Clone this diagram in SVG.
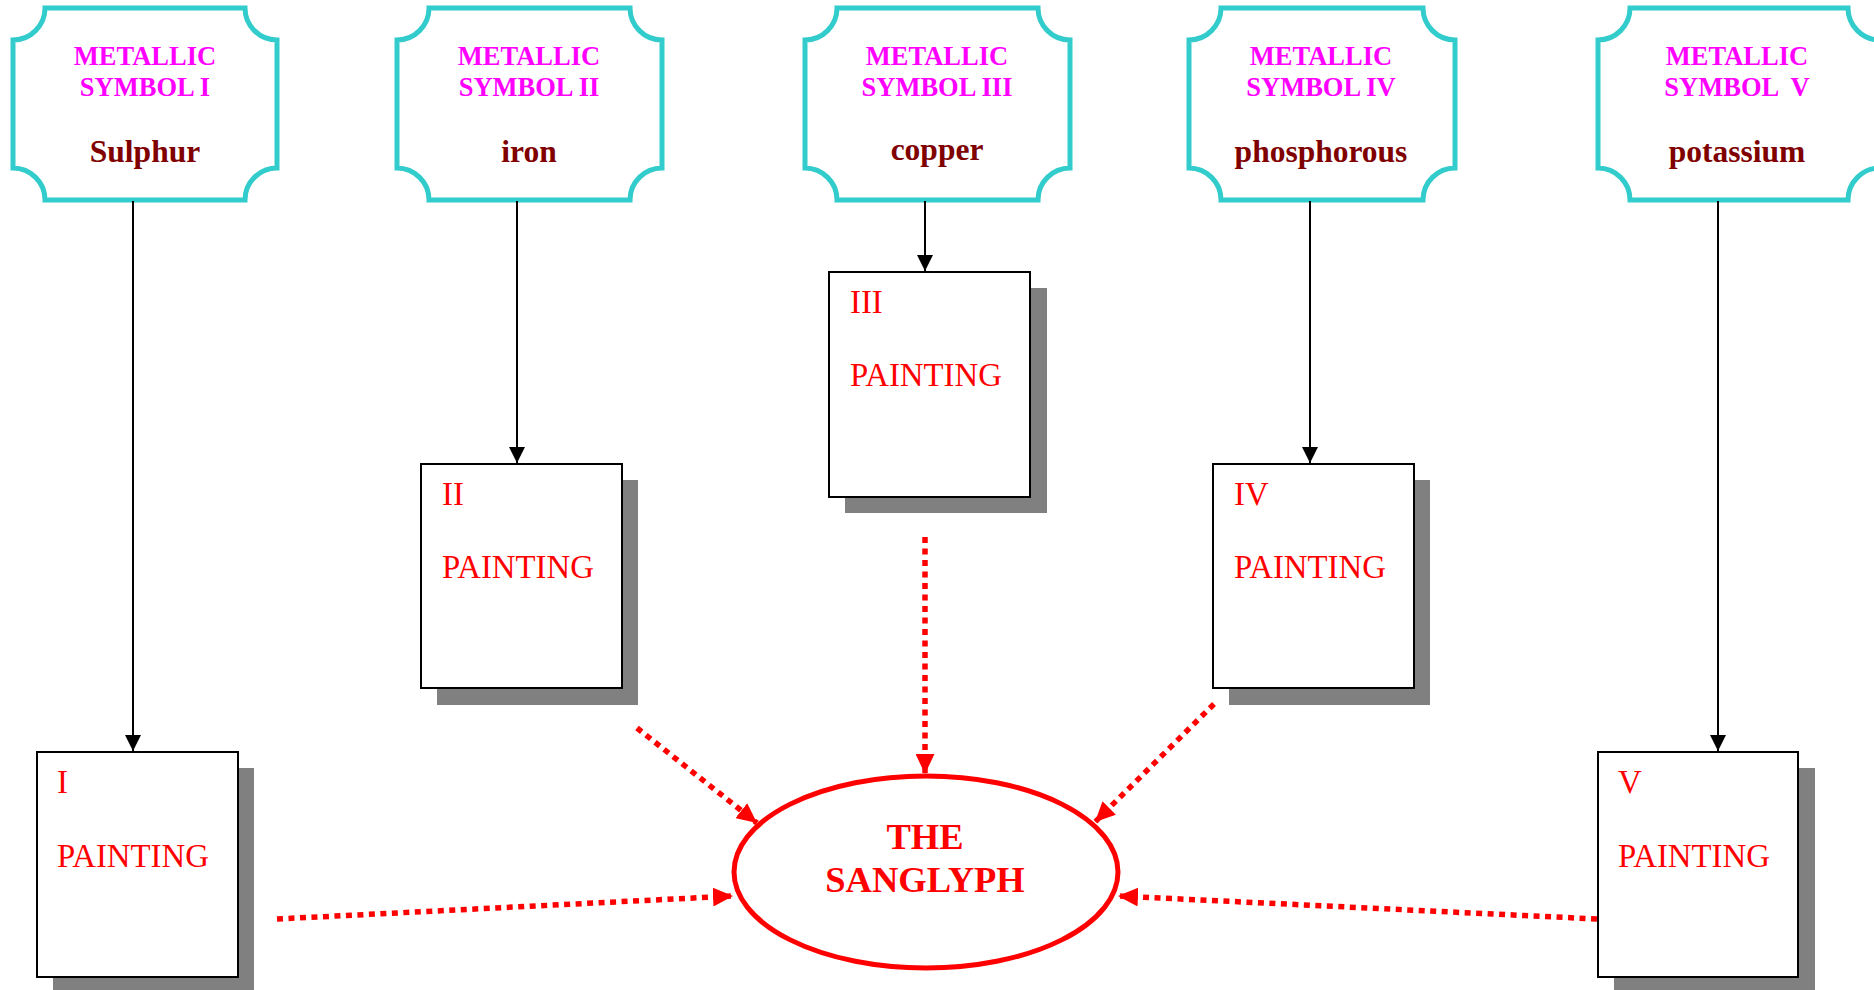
<svg xmlns="http://www.w3.org/2000/svg" width="1874" height="990" viewBox="0 0 1874 990">
<style>
.plaque{fill:#fff;stroke:#33CCCC;stroke-width:5}
.sym{font-family:"Liberation Serif",serif;font-weight:bold;font-size:26.5px;fill:#FF00FF;text-anchor:middle}
.elem{font-family:"Liberation Serif",serif;font-weight:bold;font-size:31.5px;fill:#800000;text-anchor:middle}
.shadow{fill:#808080}
.card{fill:#fff;stroke:#000;stroke-width:2}
.ptxt{font-family:"Liberation Serif",serif;font-size:32.8px;fill:#FF0000}
.black{stroke:#000;stroke-width:2;fill:none;marker-end:url(#ab)}
.red{stroke:#FF0000;stroke-width:5.5;fill:none;stroke-dasharray:6 5.5;marker-end:url(#ar)}
.title{font-family:"Liberation Serif",serif;font-weight:bold;font-size:36.5px;fill:#FF0000;text-anchor:middle}
</style>
<defs>
<marker id="ab" markerUnits="userSpaceOnUse" markerWidth="16" markerHeight="16" refX="16" refY="8" orient="auto"><path d="M0,0 L16,8 L0,16 z" fill="#000"/></marker>
<marker id="ar" markerUnits="userSpaceOnUse" markerWidth="20" markerHeight="19" refX="20" refY="9.5" orient="auto"><path d="M0,0 L20,9.5 L0,19 z" fill="#FF0000"/></marker>
</defs>
<rect width="1874" height="990" fill="#fff"/>

<g id="sym1">
<path class="plaque" d="M45,8 H245 A32,32 0 0 0 277,40 V168 A32,32 0 0 0 245,200 H45 A32,32 0 0 0 13,168 V40 A32,32 0 0 0 45,8 Z"/>
<text class="sym" x="145" y="65">METALLIC</text>
<text class="sym" x="145" y="96">SYMBOL I</text>
<text class="elem" x="145" y="162">Sulphur</text>
</g>
<g id="sym2">
<path class="plaque" d="M429,8 H630 A32,32 0 0 0 662,40 V168 A32,32 0 0 0 630,200 H429 A32,32 0 0 0 397,168 V40 A32,32 0 0 0 429,8 Z"/>
<text class="sym" x="529" y="65">METALLIC</text>
<text class="sym" x="529" y="96">SYMBOL II</text>
<text class="elem" x="529" y="162">iron</text>
</g>
<g id="sym3">
<path class="plaque" d="M837,8 H1038 A32,32 0 0 0 1070,40 V168 A32,32 0 0 0 1038,200 H837 A32,32 0 0 0 805,168 V40 A32,32 0 0 0 837,8 Z"/>
<text class="sym" x="937" y="65">METALLIC</text>
<text class="sym" x="937" y="96">SYMBOL III</text>
<text class="elem" x="937" y="160">copper</text>
</g>
<g id="sym4">
<path class="plaque" d="M1221,8 H1423 A32,32 0 0 0 1455,40 V168 A32,32 0 0 0 1423,200 H1221 A32,32 0 0 0 1189,168 V40 A32,32 0 0 0 1221,8 Z"/>
<text class="sym" x="1321" y="65">METALLIC</text>
<text class="sym" x="1321" y="96">SYMBOL IV</text>
<text class="elem" x="1321" y="162">phosphorous</text>
</g>
<g id="sym5">
<path class="plaque" d="M1630,8 H1848 A32,32 0 0 0 1880,40 V168 A32,32 0 0 0 1848,200 H1630 A32,32 0 0 0 1598,168 V40 A32,32 0 0 0 1630,8 Z"/>
<text class="sym" x="1737" y="65">METALLIC</text>
<text class="sym" x="1737" y="96" xml:space="preserve">SYMBOL  V</text>
<text class="elem" x="1737" y="162">potassium</text>
</g>

<g id="painting1">
<rect class="shadow" x="53" y="768" width="201" height="225"/>
<rect class="card" x="37" y="752" width="201" height="225"/>
<text class="ptxt" x="57" y="793">I</text>
<text class="ptxt" x="57" y="867">PAINTING</text>
</g>
<g id="painting2">
<rect class="shadow" x="437" y="480" width="201" height="225"/>
<rect class="card" x="421" y="464" width="201" height="224"/>
<text class="ptxt" x="442" y="505">II</text>
<text class="ptxt" x="442" y="578">PAINTING</text>
</g>
<g id="painting3">
<rect class="shadow" x="845" y="288" width="202" height="225"/>
<rect class="card" x="829" y="272" width="201" height="225"/>
<text class="ptxt" x="850" y="313">III</text>
<text class="ptxt" x="850" y="386">PAINTING</text>
</g>
<g id="painting4">
<rect class="shadow" x="1229" y="480" width="201" height="225"/>
<rect class="card" x="1213" y="464" width="201" height="224"/>
<text class="ptxt" x="1234" y="505">IV</text>
<text class="ptxt" x="1234" y="578">PAINTING</text>
</g>
<g id="painting5">
<rect class="shadow" x="1614" y="768" width="201" height="225"/>
<rect class="card" x="1598" y="752" width="200" height="225"/>
<text class="ptxt" x="1618" y="793">V</text>
<text class="ptxt" x="1618" y="867">PAINTING</text>
</g>

<g id="sanglyph">
<ellipse cx="926" cy="872" rx="192" ry="96" fill="#fff" stroke="#FF0000" stroke-width="5"/>
<text class="title" x="925" y="849">THE</text>
<text class="title" x="925" y="892">SANGLYPH</text>
</g>

<g id="connectors">
<line class="black" x1="133" y1="201" x2="133" y2="751"/>
<line class="black" x1="517" y1="201" x2="517" y2="463"/>
<line class="black" x1="925" y1="201" x2="925" y2="271"/>
<line class="black" x1="1310" y1="201" x2="1310" y2="463"/>
<line class="black" x1="1718" y1="201" x2="1718" y2="751"/>
<line class="red" x1="277" y1="919" x2="733" y2="896"/>
<line class="red" x1="637" y1="728" x2="757" y2="823"/>
<line class="red" x1="925" y1="537" x2="925" y2="774"/>
<line class="red" x1="1214" y1="704" x2="1095" y2="822"/>
<line class="red" x1="1597" y1="919" x2="1118" y2="896"/>
</g>
</svg>
